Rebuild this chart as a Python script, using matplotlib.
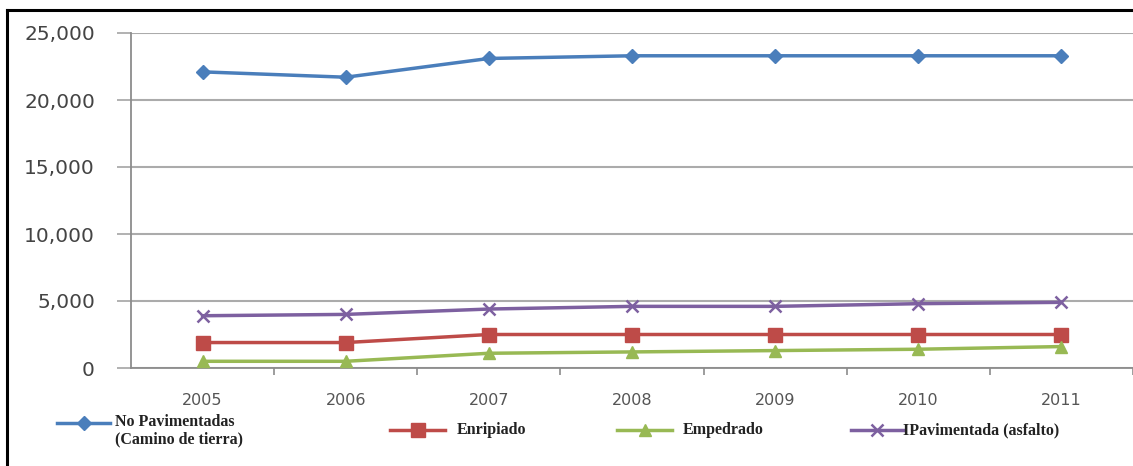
import matplotlib
matplotlib.use("Agg")
import matplotlib.pyplot as plt
from matplotlib.lines import Line2D

# Datos
years = ["2005", "2006", "2007", "2008", "2009", "2010", "2011"]
no_pavimentadas = [22100, 21700, 23100, 23300, 23300, 23300, 23300]
enripiado = [1900, 1900, 2500, 2500, 2500, 2500, 2500]
empedrado = [500, 500, 1100, 1200, 1300, 1400, 1600]
pavimentada = [3900, 4000, 4400, 4600, 4600, 4800, 4900]

labels = ["No Pavimentadas\n(Camino de tierra)", "Enripiado", "Empedrado",
          "IPavimentada (asfalto)"]
colors = ["#4A7EBB", "#BE4B48", "#98B954", "#7D60A0"]
markers = ["D", "s", "^", "x"]
msizes = [7, 10, 8, 9]

W, H = 1133, 466
fig = plt.figure(figsize=(W / 100, H / 100), dpi=100)
ax = fig.add_axes([131 / W, 98 / H, 1002 / W, 335 / H])

x = list(range(len(years)))
series = [no_pavimentadas, enripiado, empedrado, pavimentada]
for vals, c, m, ms in zip(series, colors, markers, msizes):
    ax.plot(x, vals, color=c, marker=m, markersize=ms, linewidth=2.5,
            markeredgewidth=1.8 if m == "x" else 1.0, clip_on=False, zorder=3)

ax.set_xlim(-0.5, -0.5 + 1002 / 148.5)
ax.set_ylim(0, 25000)
ax.set_yticks(range(0, 25001, 5000))
ax.set_yticklabels([f"{v:,}" for v in range(0, 25001, 5000)])
ax.set_xticks(x)
ax.set_xticklabels(years)
ax.set_xticks([i + 0.5 for i in x], minor=True)

ax.grid(axis="y", color="#ABABAB", linewidth=1.5, zorder=0)
for s in ["top", "right"]:
    ax.spines[s].set_visible(False)
for s in ["left", "bottom"]:
    ax.spines[s].set_color("#8C8C8C")
    ax.spines[s].set_linewidth(1.3)

ax.tick_params(axis="y", length=10, width=1.3, color="#ABABAB", pad=16,
               labelsize=14.5, labelcolor="#444444")
ax.tick_params(axis="x", which="major", length=0, pad=18,
               labelsize=11.5, labelcolor="#555555")
ax.tick_params(axis="x", which="minor", length=5, width=1.2, color="#8C8C8C")

# Leyenda manual (posiciones irregulares como en la imagen original)
legend_items = [
    (57, 110, 423, 115, 431),
    (390, 445, 430, 457, 430),
    (617, 672, 430, 683, 430),
    (851, 903, 430, 903, 430),
]
for (x0, x1, ly, tx, ty), lab, c, m, ms in zip(legend_items, labels, colors,
                                                markers, msizes):
    fig.add_artist(Line2D([x0 / W, x1 / W], [1 - ly / H, 1 - ly / H],
                          color=c, linewidth=2.5, transform=fig.transFigure))
    fig.add_artist(Line2D([(x0 + x1) / 2 / W], [1 - ly / H], color=c,
                          marker=m, markersize=ms,
                          markeredgewidth=1.8 if m == "x" else 1.0,
                          transform=fig.transFigure))
    fig.text(tx / W, 1 - ty / H, lab, ha="left", va="center",
             family="Liberation Serif", weight="bold", fontsize=11.5,
             color="#222222", linespacing=1.1)

# Marco negro (izquierda y arriba)
fig.add_artist(Line2D([7 / W, 7 / W], [0, 1 - 10 / H], color="black",
                      linewidth=2.2, transform=fig.transFigure))
fig.add_artist(Line2D([7 / W, 1], [1 - 10 / H, 1 - 10 / H], color="black",
                      linewidth=2.2, transform=fig.transFigure))

fig.savefig("out.png", dpi=100)
